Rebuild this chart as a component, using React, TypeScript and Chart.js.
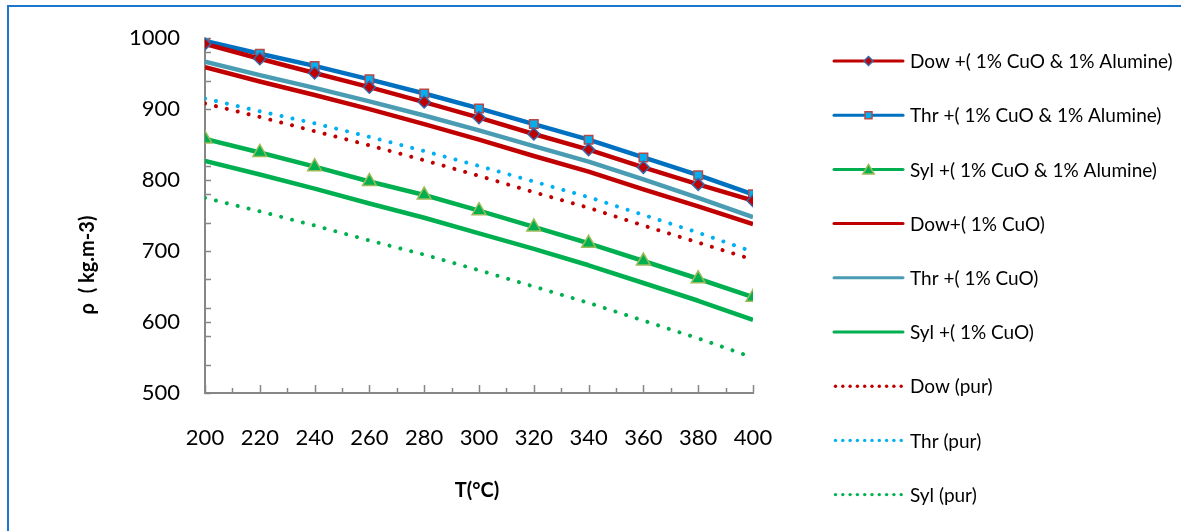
import React, { useEffect, useRef } from 'react';
import { Chart, registerables } from 'chart.js';

Chart.register(...registerables);

const temperatures = [200, 220, 240, 260, 280, 300, 320, 340, 360, 380, 400];
const dowNano = [992, 971, 951, 931, 910, 888, 865, 843, 818, 794, 771];
const thrNano = [996, 978, 961, 942, 922, 901, 879, 857, 832, 807, 780];
const sylNano = [858, 839, 819, 798, 779, 757, 734, 711, 686, 661, 635];
const dowCuO = [959, 939, 920, 900, 879, 857, 834, 812, 787, 763, 738];
const thrCuO = [967, 948, 930, 911, 891, 870, 848, 826, 801, 775, 748];
const sylCuO = [827, 808, 788, 767, 747, 725, 703, 680, 655, 630, 603];
const dowPur = [908, 889, 869, 849, 828, 806, 783, 761, 736, 712, 688];
const thrPur = [915, 897, 880, 861, 841, 820, 798, 776, 751, 726, 699];
const sylPur = [775, 756, 736, 715, 695, 673, 650, 627, 602, 577, 550];

const seriesLabels = [
  'Dow +( 1% CuO & 1% Alumine)',
  'Thr +( 1% CuO & 1% Alumine)',
  'Syl +( 1% CuO & 1% Alumine)',
  'Dow+( 1% CuO)',
  'Thr +( 1% CuO)',
  'Syl +( 1% CuO)',
  'Dow (pur)',
  'Thr (pur)',
  'Syl (pur)',
];
const seriesValues = [dowNano, thrNano, sylNano, dowCuO, thrCuO, sylCuO, dowPur, thrPur, sylPur];

const xAxisTitle = 'T(°C)';
const yAxisTitle = 'ρ  ( kg.m-3)';
const xMin = 200, xMax = 400, xStep = 20, xMinorStep = 10;
const yMin = 500, yMax = 1000, yStep = 100, yMinorStep = 40;

const FONT = 'Lato, "Open Sans", sans-serif';
const AXIS_COLOR = '#868686';

type Style = {
  color: string;
  dotted: boolean;
  marker?: 'diamond' | 'square' | 'triangle';
  markerFill?: string;
  markerBorder?: string;
};

const styles: Style[] = [
  { color: '#C00000', dotted: false, marker: 'diamond', markerFill: '#C00000', markerBorder: '#3A66A8' },
  { color: '#0070C0', dotted: false, marker: 'square', markerFill: '#00B0F0', markerBorder: '#B5494A' },
  { color: '#00B050', dotted: false, marker: 'triangle', markerFill: '#00B050', markerBorder: '#9BBB59' },
  { color: '#C00000', dotted: false },
  { color: '#4A9CB3', dotted: false },
  { color: '#00B050', dotted: false },
  { color: '#C00000', dotted: true },
  { color: '#00B0F0', dotted: true },
  { color: '#00B050', dotted: true },
];

function drawMarker(ctx: CanvasRenderingContext2D, kind: string, x: number, y: number, s: number, fill: string, stroke: string) {
  ctx.save();
  ctx.beginPath();
  if (kind === 'diamond') {
    ctx.moveTo(x, y - s);
    ctx.lineTo(x + s, y);
    ctx.lineTo(x, y + s);
    ctx.lineTo(x - s, y);
    ctx.closePath();
  } else if (kind === 'square') {
    ctx.rect(x - s, y - s, 2 * s, 2 * s);
  } else {
    ctx.moveTo(x, y - s);
    ctx.lineTo(x + s * 0.95, y + s * 0.6);
    ctx.lineTo(x - s * 0.95, y + s * 0.6);
    ctx.closePath();
  }
  ctx.fillStyle = fill;
  ctx.fill();
  ctx.lineWidth = 1.5;
  ctx.strokeStyle = stroke;
  ctx.stroke();
  ctx.restore();
}

const decorPlugin = {
  id: 'decor',
  beforeDatasetsDraw(chart: any) {
    const ctx: CanvasRenderingContext2D = chart.ctx;
    const { left, right, top, bottom } = chart.chartArea;
    const xs = chart.scales.x;
    const ys = chart.scales.y;
    ctx.save();
    ctx.strokeStyle = AXIS_COLOR;
    ctx.lineWidth = 2;
    ctx.beginPath();
    ctx.moveTo(left, top - 1);
    ctx.lineTo(left, bottom);
    ctx.lineTo(right + 1, bottom);
    ctx.stroke();
    ctx.lineWidth = 1.5;
    ctx.beginPath();
    for (let v = yMin; v <= yMax; v += yStep) {
      const p = Math.round(ys.getPixelForValue(v)) + 0.5;
      ctx.moveTo(left, p);
      ctx.lineTo(left + 6, p);
    }
    for (let v = yMin; v <= yMax; v += yMinorStep) {
      const p = Math.round(ys.getPixelForValue(v)) + 0.5;
      ctx.moveTo(left, p);
      ctx.lineTo(left + 6, p);
    }
    ctx.stroke();
    ctx.beginPath();
    for (let v = xMin; v <= xMax; v += xMinorStep) {
      const p = Math.round(xs.getPixelForValue(v)) + 0.5;
      const major = (v - xMin) % xStep === 0;
      ctx.moveTo(p, bottom);
      ctx.lineTo(p, bottom - (major ? 8 : 5));
    }
    ctx.stroke();
    ctx.restore();
  },
  afterDraw(chart: any) {
    const ctx: CanvasRenderingContext2D = chart.ctx;
    const { left, right } = chart.chartArea;
    ctx.save();
    ctx.fillStyle = '#000';
    ctx.font = `bold 20px ${FONT}`;
    ctx.textAlign = 'center';
    ctx.textBaseline = 'middle';
    ctx.fillText(xAxisTitle, (left + right) / 2 - 2, 491);
    ctx.save();
    ctx.translate(88, 265);
    ctx.rotate(-Math.PI / 2);
    ctx.fillText(yAxisTitle, 0, 0);
    ctx.restore();

    const x0 = 834, x1 = 903, tx = 910;
    ctx.font = `19px ${FONT}`;
    ctx.textAlign = 'left';
    ctx.textBaseline = 'middle';
    seriesLabels.forEach((label, i) => {
      const st = styles[i];
      const y = 61 + i * 54.2;
      if (st.dotted) {
        ctx.fillStyle = st.color;
        for (let x = x0 + 1.5; x <= x1; x += 7.3) {
          ctx.beginPath();
          ctx.arc(x, y, 1.7, 0, Math.PI * 2);
          ctx.fill();
        }
      } else {
        ctx.strokeStyle = st.color;
        ctx.lineWidth = 3;
        ctx.lineCap = 'round';
        ctx.beginPath();
        ctx.moveTo(x0, y);
        ctx.lineTo(x1, y);
        ctx.stroke();
      }
      if (st.marker) {
        const s = st.marker === 'square' ? 3.5 : st.marker === 'diamond' ? 4.5 : 6;
        drawMarker(ctx, st.marker, (x0 + x1) / 2, y + (st.marker === 'triangle' ? 1 : 0), s, st.markerFill!, st.markerBorder!);
      }
      ctx.fillStyle = '#000';
      ctx.fillText(label, tx, y + 1);
    });
    ctx.restore();
  },
};

export default function App() {
  const canvasRef = useRef<HTMLCanvasElement | null>(null);

  useEffect(() => {
    if (!canvasRef.current) return;
    const datasets = seriesValues.map((vals, i) => {
      const st = styles[i];
      const pointStyle = st.marker === 'diamond' ? 'rectRot' : st.marker === 'square' ? 'rect' : st.marker === 'triangle' ? 'triangle' : 'circle';
      const radius = st.marker === 'diamond' ? 6 : st.marker === 'square' ? 6 : st.marker === 'triangle' ? 8 : 0;
      return {
        label: seriesLabels[i],
        data: temperatures.map((t, k) => ({ x: t, y: vals[k] })),
        borderColor: st.color,
        backgroundColor: st.color,
        borderWidth: st.dotted ? 4 : 4.5,
        borderDash: st.dotted ? [0.01, 11.2] : [],
        borderCapStyle: st.dotted ? 'round' : 'butt',
        borderJoinStyle: 'round',
        tension: 0,
        fill: false,
        pointStyle,
        pointRadius: radius,
        pointHoverRadius: radius,
        pointBackgroundColor: st.markerFill || st.color,
        pointBorderColor: st.markerBorder || st.color,
        pointBorderWidth: 1.5,
      };
    });

    const chart = new Chart(canvasRef.current, {
      type: 'line',
      data: { datasets } as any,
      options: {
        responsive: false,
        animation: false,
        events: [],
        layout: { padding: { left: 0, right: 428, top: 36, bottom: 0 } },
        plugins: { legend: { display: false }, tooltip: { enabled: false }, title: { display: false } },
        scales: {
          x: {
            type: 'linear',
            min: xMin,
            max: xMax,
            grid: { display: false, drawTicks: false },
            border: { display: false },
            ticks: {
              stepSize: xStep,
              padding: 32,
              color: '#000',
              font: { family: FONT, size: 22 },
              maxRotation: 0,
              autoSkip: false,
              callback: (v: any) => String(v),
            },
            afterFit(scale: any) { scale.height = 138; },
          },
          y: {
            type: 'linear',
            min: yMin,
            max: yMax,
            grid: { display: false, drawTicks: false },
            border: { display: false },
            ticks: {
              stepSize: yStep,
              padding: 25,
              color: '#000',
              font: { family: FONT, size: 22 },
              callback: (v: any) => String(v),
            },
            afterFit(scale: any) { scale.width = 205; },
          },
        },
      } as any,
      plugins: [decorPlugin],
    });
    return () => chart.destroy();
  }, []);

  return (
    <div style={{ position: 'absolute', left: 0, top: 0, width: 1181, height: 531, background: '#fff', overflow: 'hidden' }}>
      <div style={{ position: 'absolute', left: 7, top: 5, width: 1200, height: 560, borderLeft: '2px solid #1C76CF', borderTop: '2px solid #1C76CF' }} />
      <canvas ref={canvasRef} width={1181} height={531} style={{ position: 'absolute', left: 0, top: 0 }} />
    </div>
  );
}
